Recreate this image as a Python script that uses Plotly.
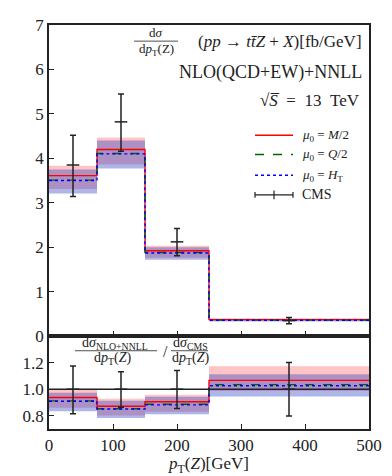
import plotly.graph_objects as go

# ---------------- data ----------------
bin_edges = [0, 75, 150, 250, 500]
theo_M2 = [3.61, 4.20, 1.92, 0.371]      # mu0 = M/2
theo_Q2 = [3.51, 4.11, 1.88, 0.360]      # mu0 = Q/2
theo_HT = [3.50, 4.10, 1.87, 0.357]      # mu0 = H_T
band_M2_lo = [3.31, 3.86, 1.76, 0.343]
band_M2_hi = [3.83, 4.47, 2.03, 0.408]
band_HT_lo = [3.21, 3.77, 1.72, 0.329]
band_HT_hi = [3.75, 4.40, 2.00, 0.387]
cms_x = [37.5, 112.5, 200, 375]
cms_val = [3.85, 4.82, 2.12, 0.348]
cms_up = [0.67, 0.63, 0.30, 0.07]
cms_dn = [0.71, 0.66, 0.31, 0.07]
x_ticks = [0, 100, 200, 300, 400, 500]
y_ticks_top = [0, 1, 2, 3, 4, 5, 6, 7]
y_ticks_ratio = [0.8, 1.0, 1.2]
y_ticks_ratio_text = ["0.8", "1.0", "1.2"]

FONT = "Liberation Serif"
INK = "#222222"

def step_xy(vals):
    xs, ys = [], []
    for i, v in enumerate(vals):
        xs += [bin_edges[i], bin_edges[i + 1]]
        ys += [v, v]
    return xs, ys

def band_xy(lo, hi):
    xh, yh = step_xy(hi)
    xl, yl = step_xy(lo)
    return xh + xl[::-1], yh + yl[::-1]

ratio = lambda arr: [a / c for a, c in zip(arr, cms_val)]

fig = go.Figure()

panels = [("x", "y", lambda a: a), ("x2", "y2", ratio)]
for xa, ya, f in panels:
    bx, by = band_xy(f(band_M2_lo), f(band_M2_hi))
    fig.add_trace(go.Scatter(x=bx, y=by, fill="toself", mode="none",
                             fillcolor="rgba(255,60,60,0.30)", xaxis=xa, yaxis=ya,
                             showlegend=False, hoverinfo="skip"))
    bx, by = band_xy(f(band_HT_lo), f(band_HT_hi))
    fig.add_trace(go.Scatter(x=bx, y=by, fill="toself", mode="none",
                             fillcolor="rgba(50,70,200,0.40)", xaxis=xa, yaxis=ya,
                             showlegend=False, hoverinfo="skip"))
    for vals, col, dash in [(theo_M2, "#ff0000", "solid"),
                            (theo_Q2, "#006400", "dash"),
                            (theo_HT, "#0000ff", "dot")]:
        sx, sy = step_xy(f(vals))
        fig.add_trace(go.Scatter(x=sx, y=sy, mode="lines", xaxis=xa, yaxis=ya,
                                 line=dict(color=col, width=1.4, dash=dash),
                                 showlegend=False, hoverinfo="skip"))

# unity line in ratio panel
fig.add_shape(type="line", xref="x2 domain", yref="y2", x0=0, x1=1, y0=1.0, y1=1.0,
              line=dict(color=INK, width=1.5))

# CMS data
fig.add_trace(go.Scatter(x=cms_x, y=cms_val, mode="markers", xaxis="x", yaxis="y",
                         marker=dict(symbol="line-ew", size=9, line=dict(color=INK, width=1.5)),
                         error_y=dict(type="data", symmetric=False, array=cms_up,
                                      arrayminus=cms_dn, color=INK, thickness=1.5, width=3),
                         showlegend=False))
fig.add_trace(go.Scatter(x=cms_x, y=[1.0] * 4, mode="markers", xaxis="x2", yaxis="y2",
                         marker=dict(symbol="line-ew", size=9, line=dict(color=INK, width=1.5)),
                         error_y=dict(type="data", symmetric=False,
                                      array=[u / c for u, c in zip(cms_up, cms_val)],
                                      arrayminus=[d / c for d, c in zip(cms_dn, cms_val)],
                                      color=INK, thickness=1.5, width=3),
                         showlegend=False))

# ---------------- layout ----------------
OFF = 8  # page body margin
W, H = 392, 476
L, R, T, B = 49, 369, 16, 429  # target plot-area pixels on screen
def P(xp, yp):
    return (xp - L) / (R - L), (B - yp) / (B - T)

ax_common = dict(showline=True, linecolor=INK, linewidth=1.5, mirror=True,
                 ticks="inside", ticklen=5, tickwidth=1.2, tickcolor=INK,
                 showgrid=False, zeroline=False,
                 tickfont=dict(family=FONT, size=17, color=INK))
fig.update_layout(
    width=W, height=H,
    margin=dict(l=L - OFF, r=W + OFF - R, t=T - OFF, b=H + OFF - B),
    paper_bgcolor="white", plot_bgcolor="white", showlegend=False,
    xaxis=dict(domain=[0, 1], anchor="y", range=[0, 500], tickvals=x_ticks,
               showticklabels=False, **ax_common),
    yaxis=dict(domain=[0.23, 1], anchor="x", range=[0, 7], tickvals=y_ticks_top, **ax_common),
    xaxis2=dict(domain=[0, 1], anchor="y2", range=[0, 500], tickvals=x_ticks, **ax_common),
    yaxis2=dict(domain=[0, 0.23], anchor="x2", range=[0.7, 1.4], tickvals=y_ticks_ratio,
                ticktext=y_ticks_ratio_text, **ax_common),
)

def ann(xp, yp, text, size, xanchor="center"):
    x, y = P(xp, yp)
    fig.add_annotation(x=x, y=y, xref="paper", yref="paper", text=text, showarrow=False,
                       xanchor=xanchor, yanchor="middle",
                       font=dict(family=FONT, size=size, color=INK))

def hline(x0, x1, yp, color=INK, width=1.0, dash="solid"):
    a0, b0 = P(x0, yp)
    a1, _ = P(x1, yp)
    fig.add_shape(type="line", xref="paper", yref="paper", x0=a0, x1=a1, y0=b0, y1=b0,
                  line=dict(color=color, width=width, dash=dash))

def vline(xp, y0, y1, color=INK, width=1.2):
    a, b0 = P(xp, y0)
    _, b1 = P(xp, y1)
    fig.add_shape(type="line", xref="paper", yref="paper", x0=a, x1=a, y0=b0, y1=b1,
                  line=dict(color=color, width=width))

NB = "\u00a0"
# x-axis title
ann(208, 466, "<i>p</i><sub>T</sub>(<i>Z</i>)[GeV]", 17)

# top-panel title fraction
ann(156, 24, "d<i>σ</i>", 13)
hline(134, 178, 32.5, width=0.8)
ann(156, 41, "d<i>p</i><sub>T</sub>(Z)", 13)
ann(364, 33, "(<i>pp</i>" + NB + "→" + NB + "<i>t</i><i>t\u0304</i><i>Z</i>" + NB + "+" + NB + "<i>X</i>)[fb/GeV]", 17, "right")
ann(364, 65, "NLO(QCD+EW)+NNLL", 18, "right")
ann(362, 93, "√<i>S\u0305</i>" + NB * 2 + "=" + NB * 2 + "13" + NB * 2 + "TeV", 17, "right")

# legend
leg_y = [128.7, 148.3, 169.7, 189.7]
hline(255, 293, leg_y[0], color="#ff0000", width=1.5)
hline(255, 293, leg_y[1], color="#006400", width=1.5, dash="dash")
hline(255, 293, leg_y[2], color="#0000ff", width=1.5, dash="dot")
hline(255, 293, leg_y[3], color=INK, width=1.3)
vline(255, leg_y[3] - 3, leg_y[3] + 3)
vline(293, leg_y[3] - 3, leg_y[3] + 3)
vline(274, leg_y[3] - 4.5, leg_y[3] + 4.5)
ann(300, leg_y[0], "<i>μ</i><sub>0</sub>" + NB + "=" + NB + "<i>M</i>/2", 13, "left")
ann(300, leg_y[1], "<i>μ</i><sub>0</sub>" + NB + "=" + NB + "<i>Q</i>/2", 13, "left")
ann(300, leg_y[2], "<i>μ</i><sub>0</sub>" + NB + "=" + NB + "<i>H</i><sub>T</sub>", 13, "left")
ann(300, leg_y[3], "CMS", 14, "left")

# ratio-panel label
ann(115, 342, "d<i>σ</i><sub>NLO+NNLL</sub>", 14)
hline(75, 157, 349, width=0.8)
ann(112, 357, "d<i>p</i><sub>T</sub>(<i>Z</i>)", 14)
ann(165, 350, "/", 16)
ann(190, 342, "d<i>σ</i><sub>CMS</sub>", 14)
hline(171, 208, 349, width=0.8)
ann(190, 357, "d<i>p</i><sub>T</sub>(<i>Z</i>)", 14)

fig.write_html("out.html")
